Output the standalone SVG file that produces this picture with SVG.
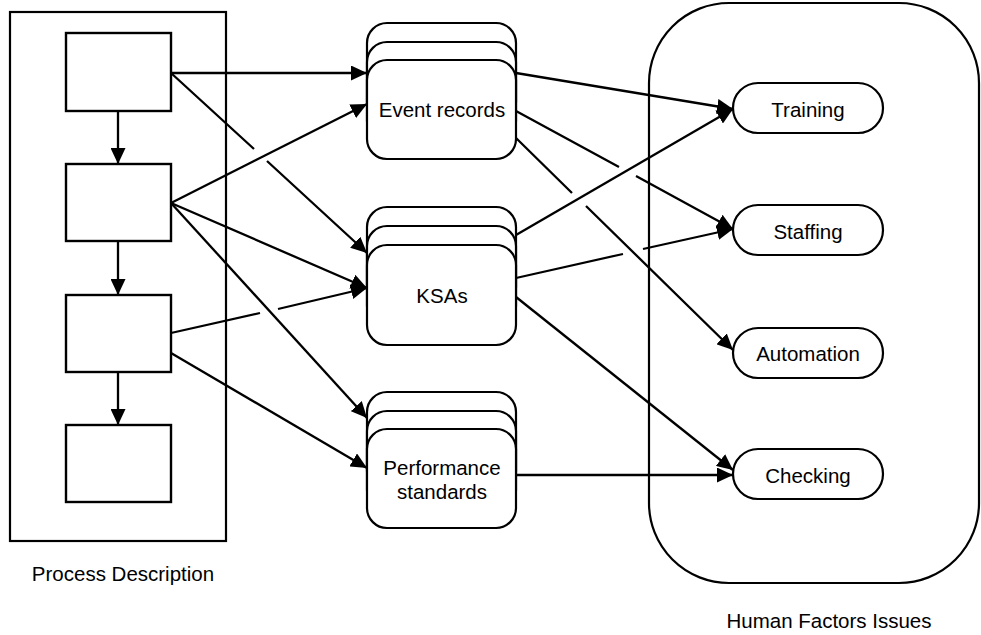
<svg xmlns="http://www.w3.org/2000/svg" width="981" height="635" viewBox="0 0 981 635">
<style>
.box{fill:#fff;stroke:#000;stroke-width:2.4}
.card{fill:#fff;stroke:#000;stroke-width:2.2}
.frame{fill:none;stroke:#000;stroke-width:2.2}
.ln{fill:none;stroke:#000;stroke-width:2.3;marker-end:url(#ah)}
.lbl{font-family:"Liberation Sans",Arial,sans-serif;font-size:20.5px;fill:#000;text-anchor:middle}
</style>
<defs>
<marker id="ah" markerUnits="userSpaceOnUse" markerWidth="17" markerHeight="15" refX="16" refY="7.5" orient="auto">
<path d="M0,0 L16,7.5 L0,15 z" fill="#000"/>
</marker>
</defs>
<rect width="981" height="635" fill="#fff"/>
<g id="process-description">
<rect class="frame" x="10" y="12" width="216" height="529"/>
<text class="lbl" x="123" y="581">Process Description</text>
</g>
<g id="human-factors-issues">
<rect class="frame" x="649" y="3" width="330" height="580" rx="80" ry="80"/>
<text class="lbl" x="829" y="628">Human Factors Issues</text>
</g>
<g id="step1"><rect class="box" x="66" y="33" width="105" height="78"/></g>
<g id="step2"><rect class="box" x="66" y="164" width="105" height="77"/></g>
<g id="step3"><rect class="box" x="66" y="295" width="105" height="77"/></g>
<g id="step4"><rect class="box" x="66" y="425" width="105" height="77"/></g>
<g id="event-records">
<rect class="card" x="367" y="23" width="149" height="99" rx="20"/>
<rect class="card" x="367" y="42" width="149" height="99" rx="20"/>
<rect class="card" x="367" y="60" width="149" height="99" rx="20"/>
<text class="lbl" x="442" y="117">Event records</text>
</g>
<g id="ksas">
<rect class="card" x="367" y="207" width="149" height="100" rx="20"/>
<rect class="card" x="367" y="226" width="149" height="100" rx="20"/>
<rect class="card" x="367" y="245" width="149" height="100" rx="20"/>
<text class="lbl" x="442" y="303">KSAs</text>
</g>
<g id="performance-standards">
<rect class="card" x="367" y="392" width="149" height="99" rx="20"/>
<rect class="card" x="367" y="411" width="149" height="99" rx="20"/>
<rect class="card" x="367" y="429" width="149" height="99" rx="20"/>
<text class="lbl" x="442" y="475">Performance</text>
<text class="lbl" x="442" y="499">standards</text>
</g>
<g id="training"><rect class="card" x="733" y="83" width="150" height="50" rx="25"/><text class="lbl" x="808" y="117">Training</text></g>
<g id="staffing"><rect class="card" x="733" y="205" width="150" height="50" rx="25"/><text class="lbl" x="808" y="239">Staffing</text></g>
<g id="automation"><rect class="card" x="733" y="328" width="150" height="50" rx="25"/><text class="lbl" x="808" y="361">Automation</text></g>
<g id="checking"><rect class="card" x="733" y="449" width="150" height="50" rx="25"/><text class="lbl" x="808" y="483">Checking</text></g>
<g id="connectors">
<path class="ln" d="M118,111 L118,164"/>
<path class="ln" d="M118,241 L118,295"/>
<path class="ln" d="M118,372 L118,425"/>
<path class="ln" d="M171,73 L367,73"/>
<path class="ln" d="M171,73 L254,149 M267,161 L367,253"/>
<path class="ln" d="M171,203 L367,104"/>
<path class="ln" d="M171,203 L367,288"/>
<path class="ln" d="M171,203 L367,418"/>
<path class="ln" d="M171,333 L260,313 M278,309 L367,288"/>
<path class="ln" d="M171,353 L367,468"/>
<path class="ln" d="M516,73 L733,109"/>
<path class="ln" d="M516,111 L619,167 M636,176 L733,229"/>
<path class="ln" d="M516,138 L572,193 M586,206 L733,350"/>
<path class="ln" d="M516,235 L733,109"/>
<path class="ln" d="M516,278 L623,254 M643,249 L733,229"/>
<path class="ln" d="M516,297 L733,470"/>
<path class="ln" d="M516,475 L733,475"/>
</g>
</svg>
